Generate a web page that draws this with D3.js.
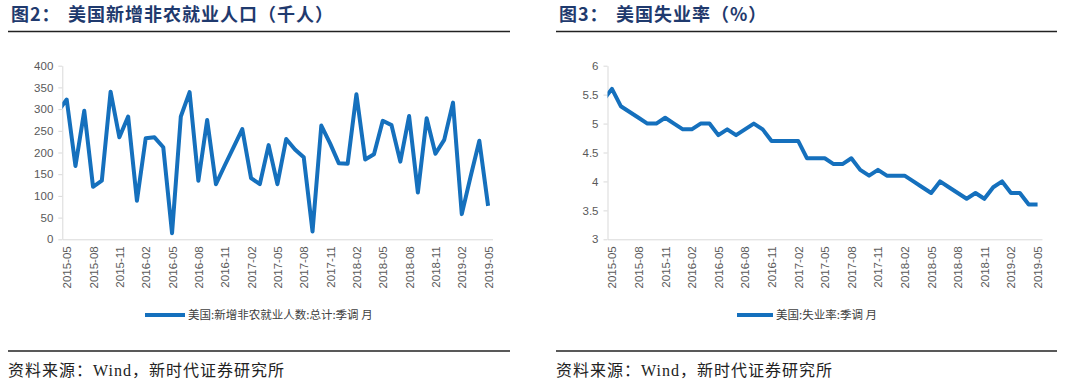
<!DOCTYPE html>
<html>
<head>
    <meta charset="utf-8">
    <title>美国非农与失业率</title>
    <script type="text/javascript" src="https://cdn.jsdelivr.net/npm/d3@7"></script>
    <style>
        body { margin: 0; background: #fff; }
        svg text { font-family: "Liberation Sans", Arial, "Noto Sans CJK SC", sans-serif; }
        .axis text { fill: #595959; font-size: 11.5px; }
        .axis path, .axis line { stroke: #d9d9d9; }
        .title { font-family: "Noto Sans CJK SC", sans-serif !important; font-weight: bold; font-size: 18px; fill: #1f3a6e; letter-spacing: 1px; }
        .source { font-family: "Liberation Serif", "Noto Sans CJK SC", serif !important; font-size: 16px; fill: #222; letter-spacing: 1px; }
        .legend { font-family: "Noto Sans CJK SC", sans-serif !important; font-size: 11.5px; fill: #404040; }
    </style>
</head>
<body>
<script type="text/javascript">

    // months, first one (2015-04) sits just left of the axis and gets clipped
    var months = [
        "2015-04","2015-05","2015-06","2015-07","2015-08","2015-09","2015-10","2015-11","2015-12",
        "2016-01","2016-02","2016-03","2016-04","2016-05","2016-06","2016-07","2016-08","2016-09","2016-10","2016-11","2016-12",
        "2017-01","2017-02","2017-03","2017-04","2017-05","2017-06","2017-07","2017-08","2017-09","2017-10","2017-11","2017-12",
        "2018-01","2018-02","2018-03","2018-04","2018-05","2018-06","2018-07","2018-08","2018-09","2018-10","2018-11","2018-12",
        "2019-01","2019-02","2019-03","2019-04","2019-05"
    ];

    var tickLabels = ["2015-05","2015-08","2015-11","2016-02","2016-05","2016-08","2016-11","2017-02",
        "2017-05","2017-08","2017-11","2018-02","2018-05","2018-08","2018-11","2019-02","2019-05"];

    // 美国:新增非农就业人数 (千人)
    var payrolls = [
        295, 322, 169, 296, 121, 135, 340, 235, 283,
        89, 233, 235, 212, 14, 283, 339, 135, 275, 127, 170, 212,
        254, 141, 127, 217, 127, 231, 207, 189, 18, 262, 221, 175,
        174, 334, 184, 196, 273, 263, 179, 284, 108, 279, 197, 229,
        315, 58, 144, 227, 77
    ];

    // 美国:失业率 (%)
    var unemployment = [
        5.4, 5.6, 5.3, 5.2, 5.1, 5.0, 5.0, 5.1, 5.0,
        4.9, 4.9, 5.0, 5.0, 4.8, 4.9, 4.8, 4.9, 5.0, 4.9, 4.7, 4.7,
        4.7, 4.7, 4.4, 4.4, 4.4, 4.3, 4.3, 4.4, 4.2, 4.1, 4.2, 4.1,
        4.1, 4.1, 4.0, 3.9, 3.8, 4.0, 3.9, 3.8, 3.7, 3.8, 3.7, 3.9,
        4.0, 3.8, 3.8, 3.6, 3.6
    ];

    var payTicks = [0, 50, 100, 150, 200, 250, 300, 350, 400];
    var rateTicks = [3, 3.5, 4, 4.5, 5, 5.5, 6];

    var width = 1080, height = 385;
    var lineColor = "#1570bd";

    var svg = d3.select("body").append("svg")
        .attr("width", width)
        .attr("height", height);

    function panel(opt) {
        var g = svg.append("g").attr("transform", "translate(" + opt.left + ",0)");

        // title + rule
        g.append("text").attr("class", "title").attr("x", 3).attr("y", 21).text(opt.fig);
        g.append("text").attr("class", "title").attr("x", 60).attr("y", 21).text(opt.title);
        g.append("line").attr("x1", 0).attr("x2", opt.ruleW).attr("y1", 31.5).attr("y2", 31.5)
            .attr("stroke", "#222").attr("stroke-width", 1.5);

        var x = d3.scaleLinear()
            .domain([0.5, months.length - 0.5])
            .range([opt.x0, opt.x1]);
        var y = d3.scaleLinear()
            .domain(opt.domain)
            .range([239.3, 65.7]);

        var yAxis = d3.axisLeft(y).tickValues(opt.ticks).tickSizeInner(4).tickSizeOuter(0).tickPadding(5)
            .tickFormat(opt.fmt);
        g.append("g").attr("class", "axis")
            .attr("transform", "translate(" + opt.x0 + ",0)")
            .call(yAxis);

        var xAxis = d3.axisBottom(x)
            .tickValues(tickLabels.map(function(m){ return months.indexOf(m); }))
            .tickFormat(function(i){ return months[i]; })
            .tickSize(0).tickSizeOuter(0);
        var gx = g.append("g").attr("class", "axis")
            .attr("transform", "translate(0,239.3)")
            .call(xAxis);
        gx.selectAll("text")
            .attr("transform", "rotate(-90)")
            .attr("text-anchor", "end")
            .attr("x", -7).attr("y", 0).attr("dy", "0.35em");

        var clipId = "clip" + opt.fig.charAt(1);
        g.append("clipPath").attr("id", clipId)
            .append("rect").attr("x", opt.x0).attr("y", 40).attr("width", opt.x1 - opt.x0).attr("height", 230);

        var line = d3.line()
            .x(function(d, i){ return x(i); })
            .y(function(d){ return y(d); });

        g.append("path")
            .datum(opt.values)
            .attr("clip-path", "url(#" + clipId + ")")
            .attr("d", line)
            .attr("fill", "none")
            .attr("stroke", lineColor)
            .attr("stroke-width", 4)
            .attr("stroke-linejoin", "round");

        // legend
        g.append("line").attr("x1", opt.legX).attr("x2", opt.legX + opt.legW).attr("y1", 315).attr("y2", 315)
            .attr("stroke", lineColor).attr("stroke-width", 4);
        g.append("text").attr("class", "legend").attr("x", opt.legX + opt.legW + 3).attr("y", 315)
            .attr("dy", "0.35em").text(opt.legend);

        // source
        g.append("line").attr("x1", 0).attr("x2", opt.ruleW).attr("y1", 351).attr("y2", 351)
            .attr("stroke", "#222").attr("stroke-width", 1.5);
        g.append("text").attr("class", "source").attr("x", 0).attr("y", 376).text("资料来源：Wind，新时代证券研究所");
    }

    panel({
        left: 8, fig: "图2：", title: "美国新增非农就业人口（千人）", ruleW: 502,
        x0: 54.3, x1: 484.5, domain: [0, 400], ticks: payTicks, fmt: d3.format("d"),
        values: payrolls, legX: 137, legW: 40, legend: "美国:新增非农就业人数:总计:季调 月"
    });

    panel({
        left: 556, fig: "图3：", title: "美国失业率（%）", ruleW: 501,
        x0: 51.5, x1: 486, domain: [3, 6], ticks: rateTicks, fmt: function(d){ return String(d); },
        values: unemployment, legX: 181, legW: 36, legend: "美国:失业率:季调 月"
    });

</script>
</body>
</html>
